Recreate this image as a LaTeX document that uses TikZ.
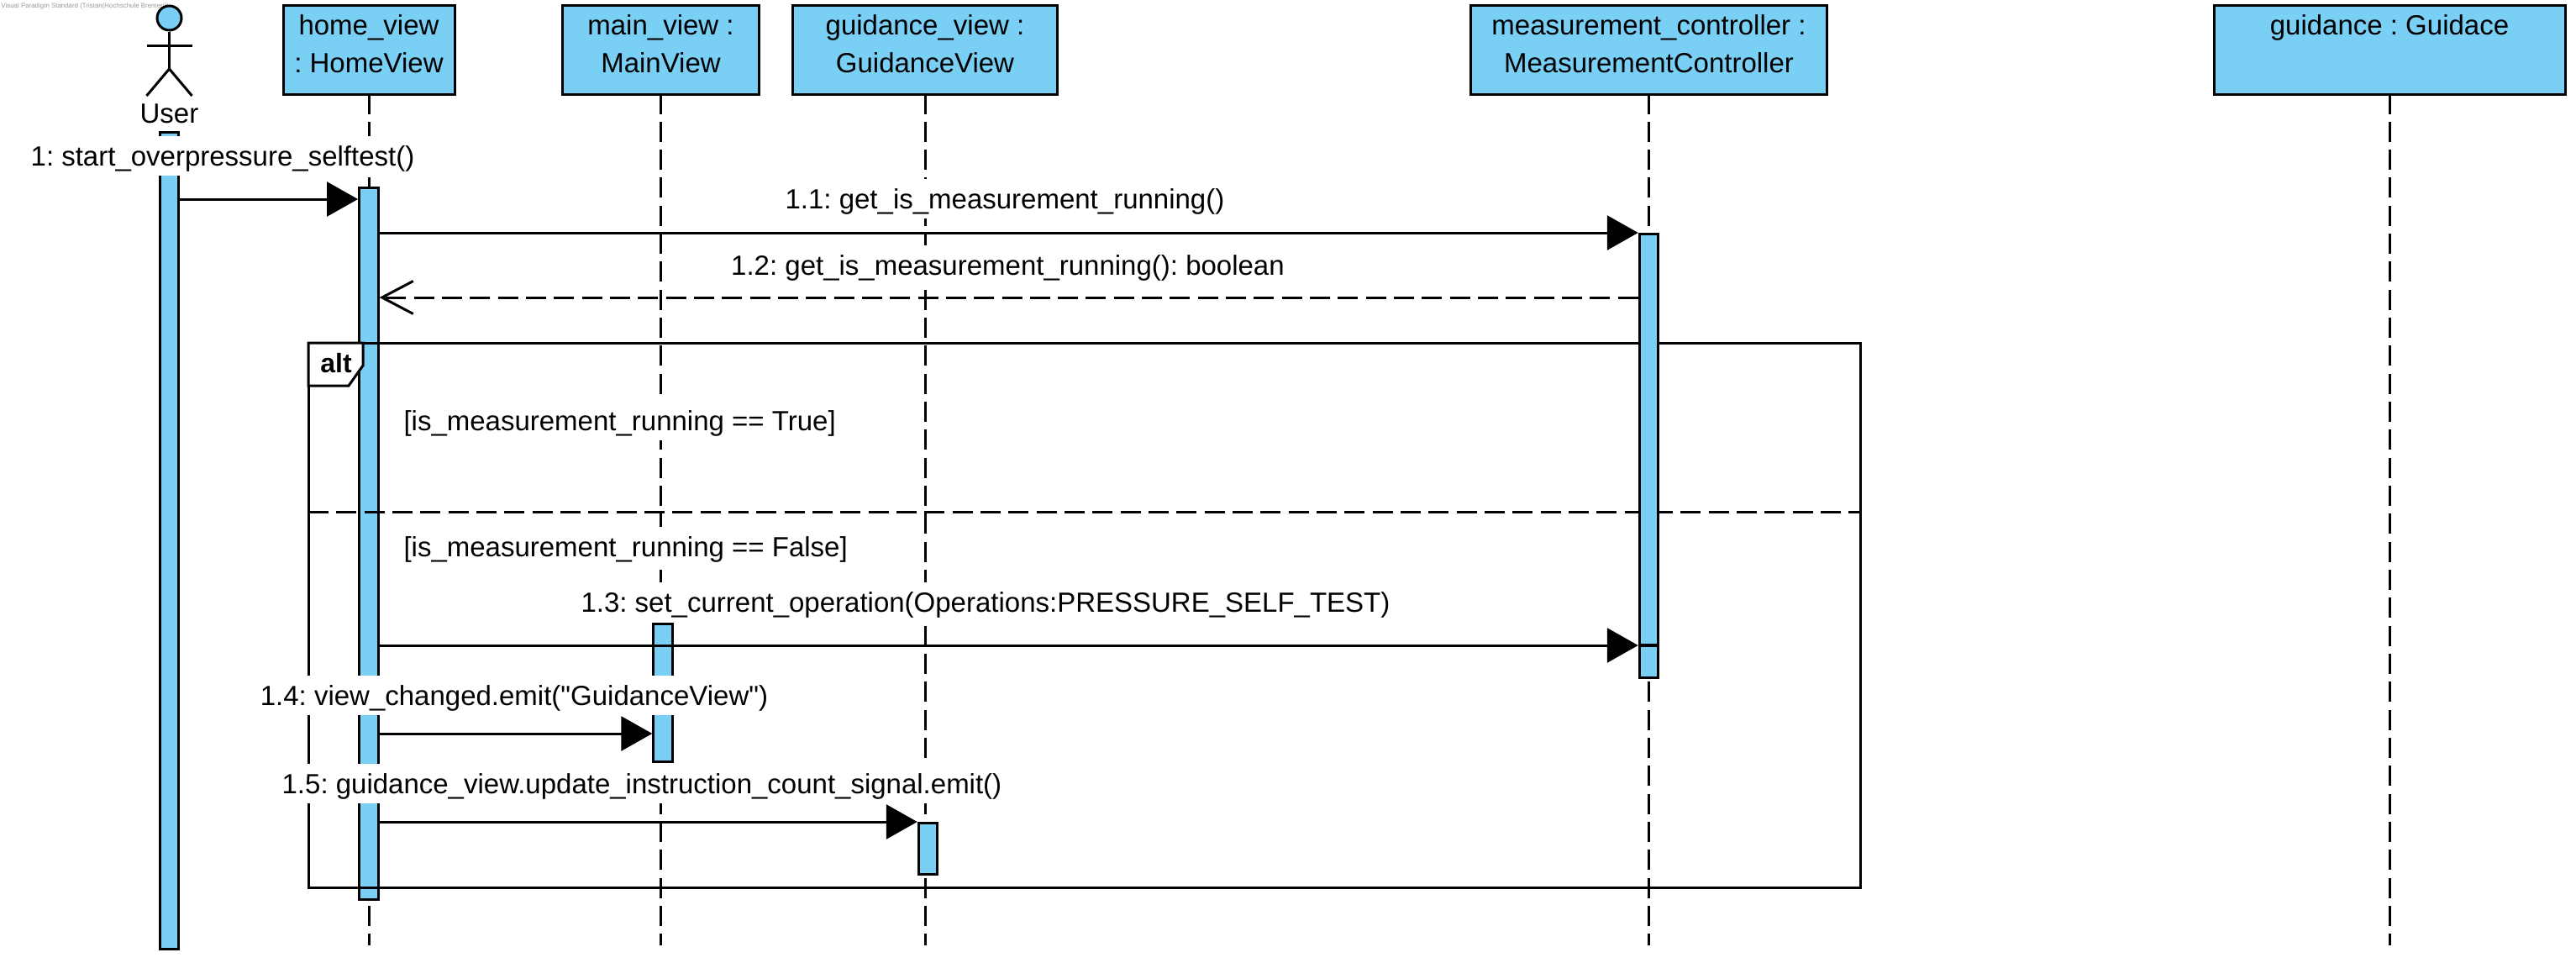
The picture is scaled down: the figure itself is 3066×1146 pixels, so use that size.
\documentclass[tikz,border=0pt]{standalone}
\usepackage{fontspec}
\newfontfamily\umlfont{Liberation Sans}
\usetikzlibrary{arrows.meta}
\definecolor{umlblue}{HTML}{7ACFF5}
\newcommand{\headtext}[2]{\rule{0pt}{35pt}#1\\#2\rule[-26pt]{0pt}{26pt}}
\begin{document}
\begin{tikzpicture}[x=1pt,y=-1pt,line join=miter,line width=3pt,>={Triangle[length=37pt,width=41pt]},font=\umlfont\fontsize{33}{45}\selectfont\frenchspacing]
	\tikzset{headbox/.style={draw,fill=umlblue,align=center,inner sep=0pt,minimum height=103pt}}
	\tikzset{actbar/.style={draw,fill=umlblue,inner sep=0pt,minimum width=22.5pt,anchor=north}}
	\tikzset{lifeline/.style={dash pattern=on 24pt off 9.33pt,dash phase=2pt}}
	\tikzset{msglabel/.style={fill=white,inner xsep=2pt,inner ysep=0pt,text height=35pt,text depth=12pt,anchor=base}}
	\useasboundingbox (0,0) rectangle (3066,1146);
	\node[anchor=west,inner sep=0pt,text=gray!80,font=\umlfont\fontsize{7.9}{9}\selectfont] (watermark) at (0,7) {Visual Paradigm Standard (Tristan(Hochschule Bremen))};
	\coordinate (lifeend) at (0,1125);
	\node[headbox,minimum width=204pt] (homeview) at (439,59) {\headtext{home\_view}{: HomeView}};
	\node[headbox,minimum width=234pt] (mainview) at (786.5,59) {\headtext{main\_view :}{MainView}};
	\node[headbox,minimum width=315pt] (guidview) at (1101,59) {\headtext{guidance\_view :}{GuidanceView}};
	\node[headbox,minimum width=424pt] (measview) at (1962.5,59) {\headtext{measurement\_controller :}{MeasurementController}};
	\node[headbox,minimum width=418pt] (guidance) at (2844,59) {\headtext{guidance : Guidace}{}};
	\foreach \n in {homeview,mainview,guidview,measview,guidance}
		\draw[lifeline] (\n.south) -- (\n.south |- lifeend);
	\node[draw,circle,fill=umlblue,inner sep=0pt,minimum size=29pt] (userhead) at (201.5,21.5) {};
	\coordinate (userhip) at (201.5,82);
	\draw (userhead.south) -- (userhip);
	\draw (174.5,54) -- (228.5,54);
	\draw (174.5,114) -- (userhip) -- (228.5,114);
	\node[anchor=base,inner sep=0pt] (username) at (201.5,146) {User};
	\foreach \n/\cx/\ytop/\ybot in {useract/201.5/156/1131,homeact/438.8/222/1072,mainact/789/741/908,guidact/1104.5/978/1042}
		\node[actbar,minimum height=\ybot-\ytop-3] (\n) at (\cx,\ytop) {};
	\node[draw,inner sep=0pt,outer sep=0pt,minimum width=1847pt,minimum height=648pt] (altframe) at (1290.5,732) {};
	\draw[fill=white] (altframe.north west) -- (432,408) -- (432,435) -- (415,459) -- (367,459) -- cycle;
	\node[anchor=base,inner sep=0pt,font=\umlfont\fontsize{32}{45}\selectfont\bfseries] (alttag) at (400,443) {alt};
	\draw[lifeline,dash phase=0pt] (altframe.west |- 0,609) -- (altframe.east |- 0,609);
	\foreach \n/\cx/\ytop/\ybot in {measact/1962.5/277/769,measnest/1962.5/767/808}
		\node[actbar,minimum height=\ybot-\ytop-3] (\n) at (\cx,\ytop) {};
	\foreach \a/\b/\y in {useract/homeact/237,homeact/measact/277,homeact/measnest/768,homeact/mainact/873,homeact/guidact/978}
		\draw[->] (\a.east |- 0,\y) -- (\b.west |- 0,\y);
	\draw[lifeline,dash phase=0pt,-{Straight Barb[length=37pt,width=39pt,line width=3pt]}] (measact.west |- 0,354) -- (homeact.east |- 0,354);
	\foreach \n/\cx/\y/\txt in {lblstart/265/197/{1: start\_overpressure\_selftest()},
		lblget/1196/248/{1.1: get\_is\_measurement\_running()},
		lblret/1199.5/327/{1.2: get\_is\_measurement\_running(): boolean},
		lblset/1173/728/{1.3: set\_current\_operation(Operations:PRESSURE\_SELF\_TEST)},
		lblview/612/839/{1.4: view\_changed.emit("GuidanceView")},
		lblcount/764/944/{1.5: guidance\_view.update\_instruction\_count\_signal.emit()}}
		\node[msglabel] (\n) at (\cx,\y) {\txt};
	\node[msglabel,anchor=base west] (guardtrue) at (477,512) {[is\_measurement\_running == True]};
	\node[msglabel,anchor=base west] (guardfalse) at (477,662) {[is\_measurement\_running == False]};
\end{tikzpicture}
\end{document}
